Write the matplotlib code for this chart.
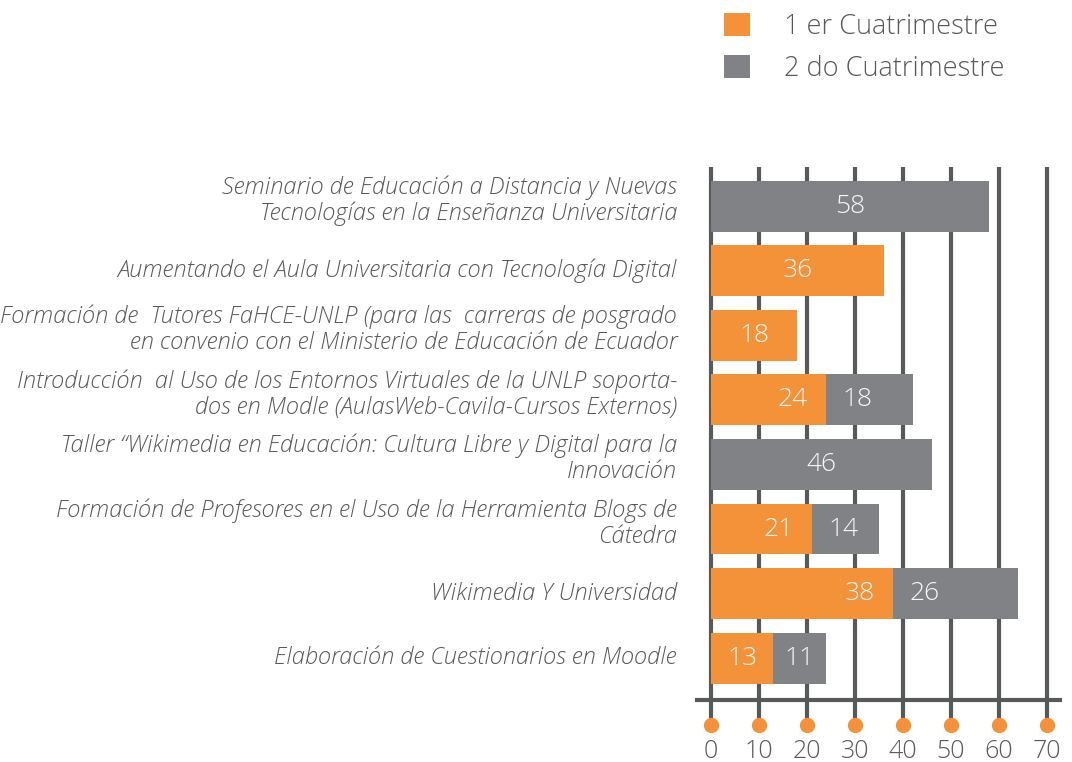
"""
Cursos por cuatrimestre - barras horizontales apiladas
"""
import matplotlib
matplotlib.use("Agg")
import matplotlib.pyplot as plt
import matplotlib.transforms as mtransforms

# datos
cursos = [
    "Seminario de Educación a Distancia y Nuevas\nTecnologías en la Enseñanza Universitaria",
    "Aumentando el Aula Universitaria con Tecnología Digital",
    "Formación de  Tutores FaHCE-UNLP (para las  carreras de posgrado\nen convenio con el Ministerio de Educación de Ecuador",
    "Introducción  al Uso de los Entornos Virtuales de la UNLP soporta-\ndos en Modle (AulasWeb-Cavila-Cursos Externos)",
    "Taller \u201cWikimedia en Educación: Cultura Libre y Digital para la\nInnovación",
    "Formación de Profesores en el Uso de la Herramienta Blogs de\nCátedra",
    "Wikimedia Y Universidad",
    "Elaboración de Cuestionarios en Moodle",
]
primer_cuat = [0, 36, 18, 24, 0, 21, 38, 13]
segundo_cuat = [58, 0, 0, 18, 46, 14, 26, 11]
series = ["1 er Cuatrimestre", "2 do Cuatrimestre"]
xticks = [0, 10, 20, 30, 40, 50, 60, 70]

naranja = "#f39239"
gris = "#818285"
oscuro = "#58595b"

plt.rcParams["font.family"] = ["Open Sans", "DejaVu Sans"]

fig = plt.figure(figsize=(10.72, 7.62), dpi=100)
ax = fig.add_axes([697 / 1072, 1 - 700 / 762, 363 / 1072, 533 / 762])

n = len(cursos)
ypos = list(range(n - 1, -1, -1))
h = 0.79

b1 = ax.barh(ypos, primer_cuat, height=h, color=naranja, label=series[0], zorder=3)
b2 = ax.barh(ypos, segundo_cuat, left=primer_cuat, height=h, color=gris,
             label=series[1], zorder=3)

# etiquetas de valores
for y, a, b in zip(ypos, primer_cuat, segundo_cuat):
    kw = dict(va="center", ha="center", color="#f7f7f7", fontsize=19,
              fontweight="light", zorder=4)
    if a and b:
        ax.text(a - min(a / 2, 7), y, str(a), **kw)
        ax.text(a + min(b / 2, 6.5), y, str(b), **kw)
    elif a:
        ax.text(a / 2, y, str(a), **kw)
    elif b:
        ax.text(b / 2, y, str(b), **kw)

# nombres de los cursos (los de dos lineas, un poco por encima del centro)
base = mtransforms.blended_transform_factory(ax.transAxes, ax.transData)
for y, c in zip(ypos, cursos):
    dy = 4 if "\n" in c else 0
    tr = base + mtransforms.ScaledTranslation(0, dy / 72, fig.dpi_scale_trans)
    ax.text(-20 / 363, y, c, transform=tr, ha="right", va="center",
            fontsize=17, fontstyle="italic", fontweight="light", color=oscuro,
            linespacing=1.1)

ax.set_xlim(-2.9, 72.7)
ax.set_ylim(-0.65, n - 1 + 0.61)
ax.set_xticks(xticks)
ax.set_yticks([])

ax.grid(axis="x", color=oscuro, lw=3)
ax.set_axisbelow(True)
for s in ["top", "right", "left"]:
    ax.spines[s].set_visible(False)
ax.spines["bottom"].set_color(oscuro)
ax.spines["bottom"].set_linewidth(3)

ax.tick_params(axis="x", direction="out", length=18, width=3, color=oscuro,
               labelsize=18, labelcolor=oscuro, pad=10)
for t in ax.get_xticklabels():
    t.set_fontweight("light")

# puntos naranjas bajo el eje
trans = mtransforms.blended_transform_factory(ax.transData, ax.transAxes)
ax.plot(xticks, [-0.047] * len(xticks), "o", color=naranja, markersize=10,
        transform=trans, clip_on=False, zorder=5)

fig.legend(handles=[b1, b2], loc="upper left", bbox_to_anchor=(724 / 1072, 1 - 13 / 762),
           frameon=False, handlelength=0.95, handleheight=0.95,
           handletextpad=1.25, labelspacing=0.5, borderpad=0, borderaxespad=0,
           labelcolor=oscuro, prop={"weight": "light", "size": 19.5})

fig.savefig("out.png", dpi=100)
